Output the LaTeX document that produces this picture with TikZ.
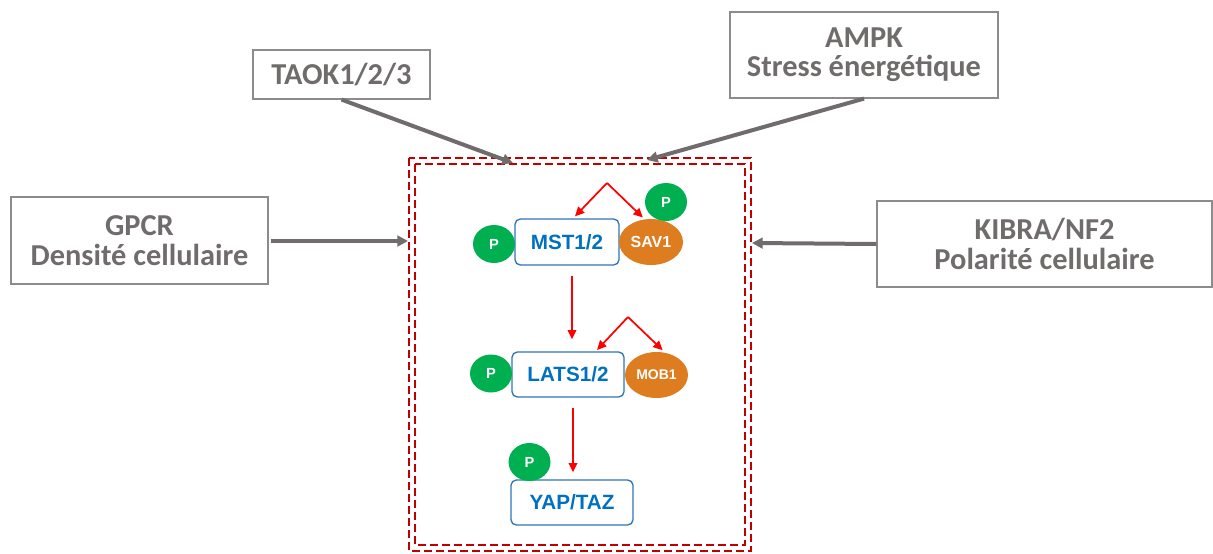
\documentclass[tikz,border=0pt]{standalone}
\usepackage{fontspec}
\setmainfont{Carlito}
\newfontfamily\arialfont{Liberation Sans}
\usetikzlibrary{shapes.geometric,arrows.meta}
\definecolor{greytxt}{RGB}{112,108,108}
\definecolor{boxgrey}{RGB}{140,140,140}
\definecolor{darkred}{RGB}{192,0,0}
\definecolor{protblue}{RGB}{0,112,192}
\definecolor{boxblue}{RGB}{46,117,182}
\definecolor{pgreen}{RGB}{0,176,80}
\definecolor{sorange}{RGB}{222,124,32}
\begin{document}
\begin{tikzpicture}[x=0.75pt,y=-0.75pt,
    signal/.style={draw=boxgrey,line width=0.9pt,text=greytxt,align=center,inner sep=0pt,
      font=\fontsize{22.8}{22}\selectfont\bfseries},
    prot/.style={draw=boxblue,line width=1pt,rounded corners=4pt,text=protblue,inner sep=0pt,
      font=\arialfont\fontsize{15.5}{15.5}\selectfont\bfseries},
    phos/.style={ellipse,fill=pgreen,text=white,inner sep=0pt,minimum width=31.5pt,minimum height=28.5pt,
      font=\arialfont\fontsize{11}{11}\selectfont\bfseries},
    partner/.style={ellipse,fill=sorange,text=white,inner sep=0pt,minimum width=48pt,minimum height=34.5pt,
      font=\arialfont\bfseries},
    input/.style={draw=greytxt,line width=3pt,-{Triangle[length=8pt,width=8pt]}},
    activ/.style={draw=red,line width=1.3pt,-{Triangle[length=7pt,width=6.5pt]}},
    frame/.style={draw=darkred,line width=1.3pt,dash pattern=on 6pt off 3pt}]
  \useasboundingbox (0,0) rectangle (1213,553);

  \draw[frame] (409,158) rectangle (751,551);
  \draw[frame] (415,164) rectangle (745,545);

  \node (gpcr) at (139.5,240.5) [signal,minimum width=192.75pt,minimum height=65.25pt] {GPCR\\Densité cellulaire};
  \node (taok) at (341.5,74.5) [signal,minimum width=132.75pt,minimum height=36.75pt] {TAOK1/2/3};
  \node (ampk) at (864,55) [signal,minimum width=201pt,minimum height=64.5pt] {AMPK\\Stress énergétique};
  \node (kibra) at (1044.5,244) [signal,minimum width=251.25pt,minimum height=64.5pt] {KIBRA/NF2\\Polarité cellulaire};

  \coordinate (inleft) at (408,241);
  \coordinate (intaok) at (513,163);
  \coordinate (inampk) at (647,160);
  \coordinate (inright) at (752,243);

  \draw[input] ([xshift=1.5pt]gpcr.east |- inleft) -- (inleft);
  \draw[input] (taok.south) -- (intaok);
  \draw[input] (ampk.south) -- (inampk);
  \draw[input] (kibra.west) -- (inright);

  \node (mst) at (567,242) [prot,minimum width=78pt,minimum height=34.5pt] {MST1/2};
  \node (pmst) at (494,244) [phos] {P};
  \node (sav) at (651,242) [partner,font=\arialfont\fontsize{12}{12}\selectfont\bfseries] {SAV1};
  \node (psav) at (666,202) [phos] {P};

  \node (lats) at (568,374.5) [prot,minimum width=84pt,minimum height=33.75pt] {LATS1/2};
  \node (plats) at (491,373.5) [phos] {P};
  \node (mob) at (656.5,375) [partner,minimum width=47.25pt,font=\arialfont\fontsize{10.5}{10.5}\selectfont\bfseries] {MOB1};

  \node (yap) at (572,502.5) [prot,minimum width=91.5pt,minimum height=33.75pt] {YAP/TAZ};
  \node (pyap) at (529.5,462) [phos] {P};

  \coordinate (mstfork) at (607,183);
  \coordinate (latsfork) at (628,317);

  \draw[activ] (mstfork) -- ([xshift=6pt,yshift=1.5pt]mst.north);
  \draw[activ] (mstfork) -- ([yshift=1.5pt]sav.110);
  \draw[activ,shorten <=7.5pt,shorten >=9pt] ([xshift=3.75pt]mst.south) -- ([xshift=3pt]lats.north);
  \draw[activ] (latsfork) -- ([xshift=21.75pt,yshift=1pt]lats.north);
  \draw[activ] (latsfork) -- ([yshift=1.5pt]mob.75);
  \draw[activ,shorten <=7.5pt,shorten >=5.25pt] ([xshift=3.75pt]lats.south) -- ([xshift=0.75pt]yap.north);
\end{tikzpicture}
\end{document}
